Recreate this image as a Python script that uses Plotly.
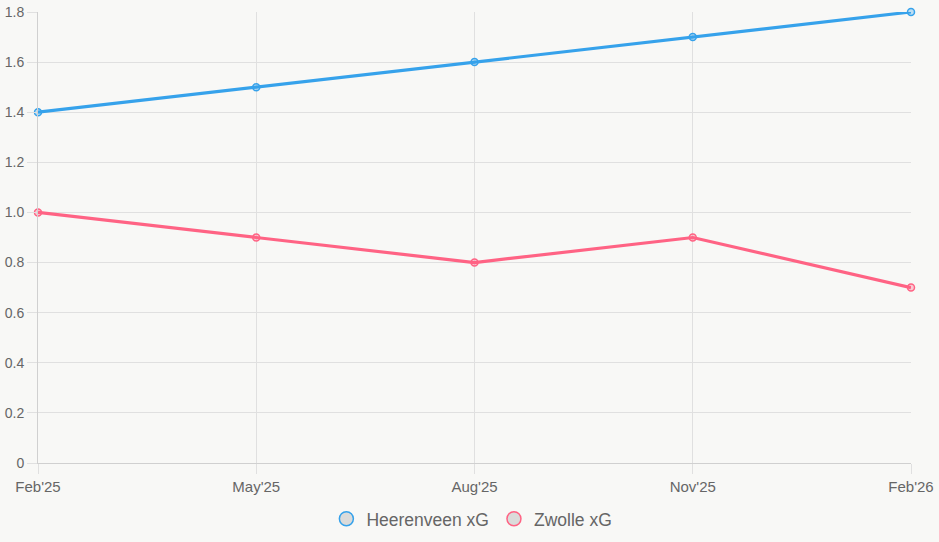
import plotly.graph_objects as go

months = ["Feb'25", "May'25", "Aug'25", "Nov'25", "Feb'26"]
heerenveen_xg = [1.4, 1.5, 1.6, 1.7, 1.8]
zwolle_xg = [1.0, 0.9, 0.8, 0.9, 0.7]
y_ticks = [0, 0.2, 0.4, 0.6, 0.8, 1.0, 1.2, 1.4, 1.6, 1.8]
y_tick_text = ["0", "0.2", "0.4", "0.6", "0.8", "1.0", "1.2", "1.4", "1.6", "1.8"]

series = [
    ("Heerenveen xG", heerenveen_xg, "#36a2eb", "rgba(54,162,235,0.3)"),
    ("Zwolle xG", zwolle_xg, "#ff6384", "rgba(255,99,132,0.3)"),
]

fig = go.Figure()
for name, vals, col, fill in series:
    fig.add_trace(go.Scatter(
        x=list(range(len(months))), y=vals, mode="lines+markers", name=name,
        line=dict(color=col, width=3.2),
        marker=dict(size=7, color=fill, line=dict(color=col, width=1.5)),
        showlegend=False, hoverinfo="x+y", cliponaxis=False,
    ))
for name, vals, col, fill in series:
    fig.add_trace(go.Scatter(
        x=[None], y=[None], mode="markers", name=name,
        marker=dict(size=14, color="rgba(215,215,215,0.9)", line=dict(color=col, width=1.5)),
        showlegend=True,
    ))

fig.update_layout(
    width=939, height=542,
    margin=dict(l=38, r=28, t=12, b=79, autoexpand=False),
    paper_bgcolor="#f8f8f6", plot_bgcolor="#f8f8f6",
    font=dict(family="Liberation Sans, Arial, sans-serif", size=14, color="#666"),
    legend=dict(orientation="h", x=0.497, xanchor="center", y=-0.084, yanchor="top",
                font=dict(size=17.5, color="#666"), tracegroupgap=0),
    showlegend=True,
)
fig.update_xaxes(
    range=[0, len(months) - 1], tickvals=list(range(len(months))), ticktext=months,
    showgrid=True, gridcolor="#e0e0e0", gridwidth=1,
    ticks="outside", ticklen=10, tickcolor="#e0e0e0",
    showline=True, linecolor="#d0d0d0", zeroline=False, automargin=False,
    tickfont=dict(size=15, color="#666"),
)
fig.update_yaxes(
    range=[0, 1.8], tickvals=y_ticks, ticktext=y_tick_text,
    showgrid=True, gridcolor="#e0e0e0", gridwidth=1,
    ticks="outside", ticklen=10, tickcolor="#e0e0e0",
    showline=True, linecolor="#d0d0d0", zeroline=False, automargin=False,
    tickfont=dict(size=14, color="#666"),
)

fig.write_html("out.html")
